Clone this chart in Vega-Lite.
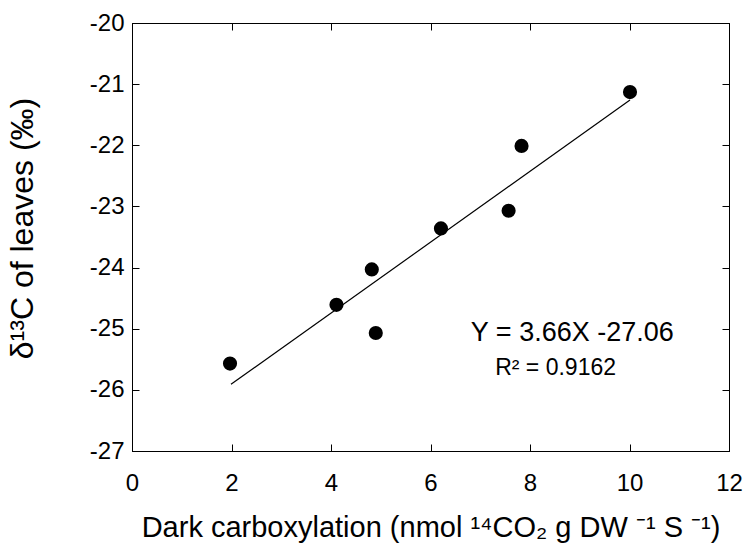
{
  "$schema": "https://vega.github.io/schema/vega-lite/v6.json",
  "width": 597,
  "height": 428,
  "autosize": {"type": "none"},
  "padding": {"left": 132, "top": 23, "right": 15, "bottom": 93},
  "background": "white",
  "config": {
    "view": {"stroke": "black", "strokeWidth": 1},
    "font": "Liberation Sans",
    "axis": {
      "grid": false,
      "domainColor": "black",
      "tickColor": "black",
      "labelColor": "black",
      "titleColor": "black",
      "labelFont": "Liberation Sans",
      "titleFont": "Liberation Sans",
      "labelFontSize": 24,
      "titleFontSize": 28,
      "titleFontWeight": "normal",
      "tickSize": -7,
      "domainWidth": 1,
      "tickWidth": 1,
      "labelFlush": false,
      "labelOverlap": false
    }
  },
  "layer": [
    {
      "data": {"values": [
        {"x": 1.97, "y": -25.57},
        {"x": 4.11, "y": -24.61},
        {"x": 4.82, "y": -24.03},
        {"x": 4.90, "y": -25.07},
        {"x": 6.21, "y": -23.36},
        {"x": 7.57, "y": -23.07},
        {"x": 7.83, "y": -22.01},
        {"x": 10.01, "y": -21.13}
      ]},
      "mark": {"type": "circle", "color": "black", "size": 200, "opacity": 1},
      "encoding": {
        "x": {"field": "x", "type": "quantitative",
          "scale": {"domain": [0, 12], "nice": false, "zero": false},
          "axis": {"orient": "bottom", "values": [0, 2, 4, 6, 8, 10, 12], "labelPadding": 27, "titlePadding": 18, "titleFontSize": 29,
            "title": "Dark carboxylation (nmol ¹⁴CO₂ g DW ⁻¹ S ⁻¹)"}},
        "y": {"field": "y", "type": "quantitative",
          "scale": {"domain": [-27, -20], "nice": false, "zero": false},
          "axis": {"orient": "left", "values": [-27, -26, -25, -24, -23, -22, -21, -20], "labelPadding": 15, "titlePadding": 50, "titleFontSize": 32, "titleY": 205,
            "labelExpr": "replace(datum.label, '−', '-')",
            "title": "δ¹³C of leaves (‰)"}}
      }
    },
    {
      "data": {"values": [
        {"x": 1.99, "y": -25.91},
        {"x": 10.01, "y": -21.26}
      ]},
      "mark": {"type": "line", "color": "black", "strokeWidth": 1.2},
      "encoding": {
        "x": {"field": "x", "type": "quantitative",
          "axis": {"orient": "top", "values": [0, 2, 4, 6, 8, 10, 12], "labels": false, "title": null}},
        "y": {"field": "y", "type": "quantitative",
          "axis": {"orient": "right", "values": [-27, -26, -25, -24, -23, -22, -21, -20], "labels": false, "title": null}}
      }
    },
    {
      "data": {"values": [{"x": 8.85, "y": -25.196, "label": "Y = 3.66X -27.06"}]},
      "mark": {"type": "text", "fontSize": 27, "align": "center", "baseline": "alphabetic", "color": "black", "font": "Liberation Sans"},
      "encoding": {
        "x": {"field": "x", "type": "quantitative", "axis": null},
        "y": {"field": "y", "type": "quantitative", "axis": null},
        "text": {"field": "label"}
      }
    },
    {
      "data": {"values": [{"x": 8.515, "y": -25.757, "label": "R² = 0.9162"}]},
      "mark": {"type": "text", "fontSize": 23, "align": "center", "baseline": "alphabetic", "color": "black", "font": "Liberation Sans"},
      "encoding": {
        "x": {"field": "x", "type": "quantitative", "axis": null},
        "y": {"field": "y", "type": "quantitative", "axis": null},
        "text": {"field": "label"}
      }
    }
  ],
  "resolve": {"axis": {"x": "independent", "y": "independent"}}
}
